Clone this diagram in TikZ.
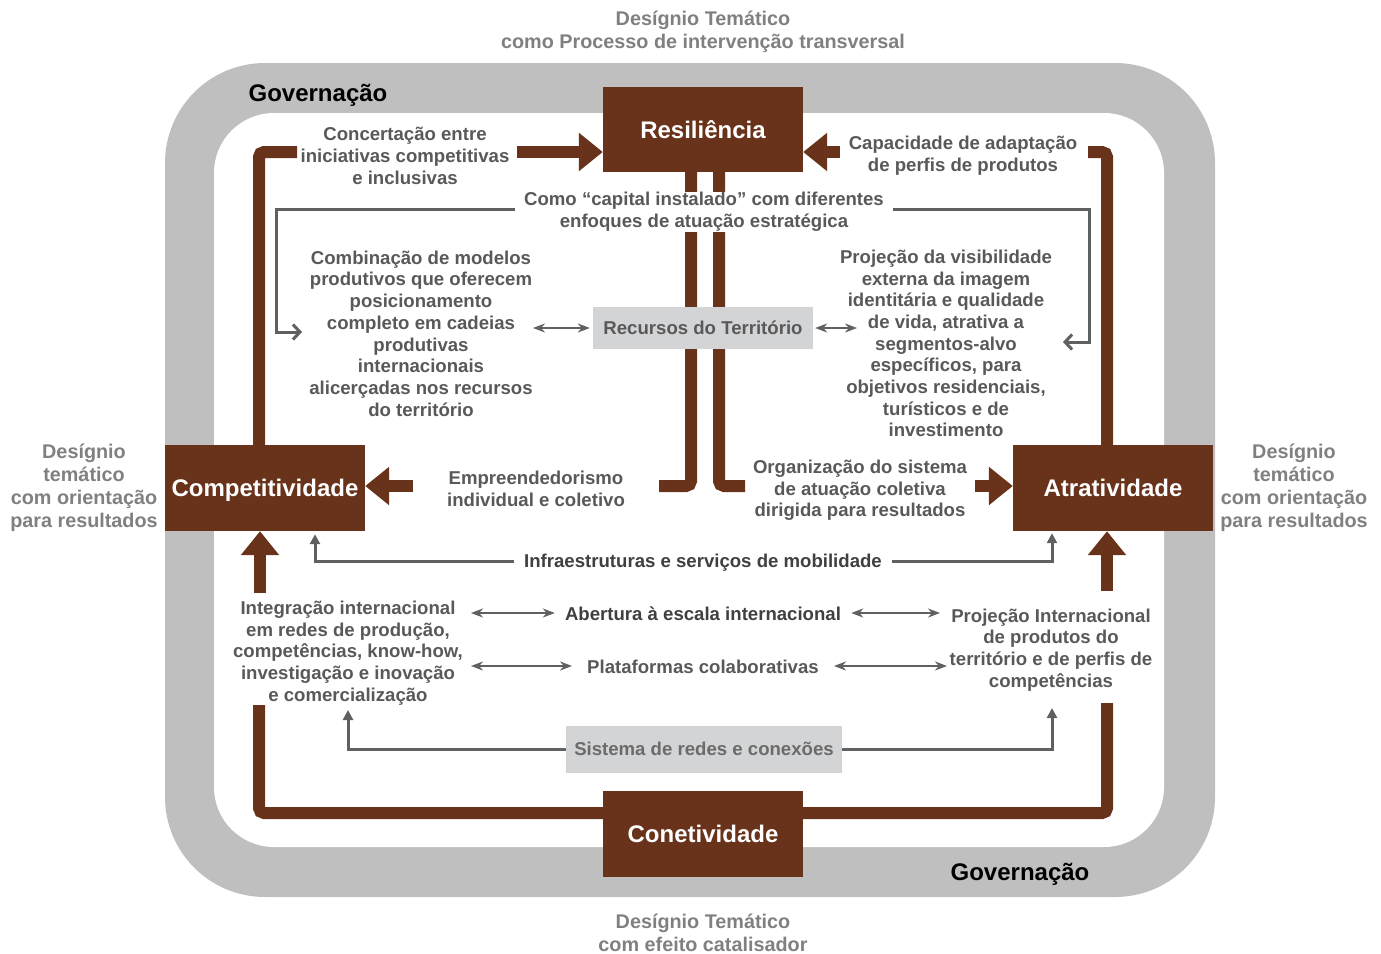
\documentclass[tikz,border=0pt]{standalone}
\usepackage{fontspec}
\setmainfont{Liberation Sans}
\usetikzlibrary{arrows.meta}

\definecolor{brn}{RGB}{104,51,26}
\definecolor{ringgray}{RGB}{191,191,191}
\definecolor{boxgray}{RGB}{211,212,214}
\definecolor{tgray}{RGB}{89,89,89}
\definecolor{dgray}{RGB}{64,64,64}
\definecolor{ogray}{RGB}{128,128,128}
\definecolor{lgray}{RGB}{95,96,98}
\definecolor{sgray}{RGB}{107,107,107}

\tikzset{
  txt/.style={font=\fontsize{18.6}{21.7}\selectfont\bfseries, text=tgray, align=center, inner sep=2pt},
  otxt/.style={font=\fontsize{19.8}{23}\selectfont\bfseries, text=ogray, align=center, inner sep=1pt},
  govtxt/.style={font=\fontsize{24}{28}\selectfont\bfseries, text=black, inner sep=1pt},
  brbox/.style={fill=brn, text=white, minimum width=200pt, inner sep=0pt,
    text height=17.2pt, text depth=0pt,
    font=\fontsize{24}{28}\selectfont\bfseries},
  graybox/.style={fill=boxgray, inner sep=0pt, text height=13.3pt, text depth=0pt,
    font=\fontsize{18.6}{21.7}\selectfont\bfseries},
  brline/.style={draw=brn, line width=12pt, rounded corners=5pt},
  fat/.style={draw=brn, line width=12pt, -{Triangle[length=24pt,width=37pt]}},
  gline/.style={draw=lgray, line width=3pt},
  barb/.style={gline, -{Straight Barb[length=7pt,width=15pt]}},
  uptip/.style={gline, -{Triangle[length=10pt,width=10pt]}},
  dline/.style={draw=lgray, line width=2.6pt, {Stealth[length=12pt,width=9pt]}-{Stealth[length=12pt,width=9pt]}}
}

\begin{document}
\begin{tikzpicture}[x=1pt,y=-1pt]
\useasboundingbox (0,0) rectangle (1381,953);

% governance ring
\fill[ringgray, rounded corners=100pt] (165,63) rectangle (1215,897);
\fill[white, rounded corners=60pt] (214,113) rectangle (1164,847);

% the four pillars
\node[brbox, minimum height=85pt] (res) at (703,129.5) {Resiliência};
\node[brbox, minimum height=86pt] (comp) at (265,488) {Competitividade};
\node[brbox, minimum height=86pt] (attr) at (1113,488) {Atratividade};
\node[brbox, minimum height=86pt] (con) at (703,834) {Conetividade};

% brown frame and thick arrows
\coordinate (ltop) at (259,152);
\coordinate (lend) at (297,152);
\draw[brline] (comp.north -| ltop) -- (ltop) -- (lend);
\coordinate (ares) at (517,152);
\draw[fat] (ares) -- (res.west |- ares);
\coordinate (bres) at (840,152);
\draw[fat] (bres) -- (res.east |- bres);
\coordinate (rtop) at (1107,152);
\coordinate (rend) at (1088,152);
\draw[brline] (attr.north -| rtop) -- (rtop) -- (rend);

\coordinate (b1) at (691,486);
\coordinate (b1e) at (659,486);
\draw[brline] (res.south -| b1) -- (b1) -- (b1e);
\coordinate (b2) at (719,486);
\coordinate (b2e) at (745,486);
\draw[brline] (res.south -| b2) -- (b2) -- (b2e);

\coordinate (ac) at (413,486);
\draw[fat] (ac) -- (comp.east |- ac);
\coordinate (aa) at (975,486);
\draw[fat] (aa) -- (attr.west |- aa);
\coordinate (uc) at (260,593);
\draw[fat] (uc) -- (comp.south -| uc);
\coordinate (ua) at (1107,591);
\draw[fat] (ua) -- (attr.south -| ua);

\coordinate (lb) at (259,705);
\coordinate (lbc) at (259,813);
\draw[brline] (lb) -- (lbc) -- (con.west |- lbc);
\coordinate (rb) at (1107,703);
\coordinate (rbc) at (1107,813);
\draw[brline] (con.east |- rbc) -- (rbc) -- (rb);

% grey boxes
\node[graybox, minimum width=220pt, minimum height=42pt, text=tgray] (rec) at (703,328) {Recursos do Território};
\node[graybox, minimum width=276pt, minimum height=47pt, text=sgray] (sist) at (704,749) {Sistema de redes e conexões};

% outer captions
\node[otxt] (dtop) at (703,31.5) {Desígnio Temático\\como Processo de intervenção transversal};
\node[otxt] (dbot) at (703,932.5) {Desígnio Temático\\com efeito catalisador};
\node[otxt] (dleft) at (84,487.5) {Desígnio\\temático\\com orientação\\para resultados};
\node[otxt] (dright) at (1294,487.5) {Desígnio\\temático\\com orientação\\para resultados};
\node[govtxt] (gov1) at (318,95) {Governação};
\node[govtxt] (gov2) at (1020,874) {Governação};

% inner texts
\node[txt] (conc) at (405,156) {Concertação entre\\iniciativas competitivas\\e inclusivas};
\node[txt] (capa) at (963,155.5) {Capacidade de adaptação\\de perfis de produtos};
\node[txt, fill=white, inner xsep=9pt, inner ysep=0pt] (capital) at (704,212) {Como “capital instalado” com diferentes\\enfoques de atuação estratégica};
\node[txt] (combo) at (421,333.5) {Combinação de modelos\\produtivos que oferecem\\posicionamento\\completo em cadeias\\produtivas\\internacionais\\alicerçadas nos recursos\\do território};
\node[txt] (proj) at (946,343.5) {Projeção da visibilidade\\externa da imagem\\identitária e qualidade\\de vida, atrativa a\\segmentos-alvo\\específicos, para\\objetivos residenciais,\\turísticos e de\\investimento};
\node[txt] (empr) at (536,488.5) {Empreendedorismo\\individual e coletivo};
\node[txt] (org) at (860,490.5) {Organização do sistema\\de atuação coletiva\\dirigida para resultados};
\node[txt, text=dgray, inner xsep=10pt] (infra) at (703,563) {Infraestruturas e serviços de mobilidade};
\node[txt] (integ) at (348,653) {Integração internacional\\em redes de produção,\\competências, know-how,\\investigação e inovação\\e comercialização};
\node[txt, text=dgray, inner xsep=10pt] (abert) at (703,614) {Abertura à escala internacional};
\node[txt, inner xsep=15pt] (plat) at (703,667) {Plataformas colaborativas};
\node[txt] (projint) at (1051,650) {Projeção Internacional\\de produtos do\\território e de perfis de\\competências};

% grey connectors
\coordinate (c1) at (276,209);
\coordinate (c1t) at (302,332);
\draw[barb] (capital.west |- c1) -- (c1) |- (c1t);
\coordinate (c2) at (1089,209);
\coordinate (c2t) at (1063,342);
\draw[barb] (capital.east |- c2) -- (c2) |- (c2t);

\coordinate (d1) at (533,328);
\draw[dline] (d1) -- ([xshift=-3pt]rec.west);
\coordinate (d2) at (857,328);
\draw[dline] ([xshift=2pt]rec.east) -- (d2);

\coordinate (i1) at (315,561);
\draw[uptip] (infra.west |- i1) -- (i1) -- ([yshift=-3pt]comp.south -| i1);
\coordinate (i2) at (1052,561);
\draw[uptip] (infra.east |- i2) -- (i2) -- ([yshift=-2pt]attr.south -| i2);

\coordinate (e1) at (471,613);
\draw[dline] (e1) -- (abert.west |- e1);
\coordinate (e2) at (940,613);
\draw[dline] (abert.east |- e2) -- (e2);
\coordinate (p1) at (471,666);
\draw[dline] (p1) -- (plat.west |- p1);
\coordinate (p2) at (947,666);
\draw[dline] (plat.east |- p2) -- (p2);

\coordinate (s1) at (348,749);
\coordinate (s1t) at (348,710);
\draw[uptip] (sist.west) -- (s1) -- (s1t);
\coordinate (s2) at (1052,749);
\coordinate (s2t) at (1052,708);
\draw[uptip] (sist.east) -- (s2) -- (s2t);
\end{tikzpicture}
\end{document}
